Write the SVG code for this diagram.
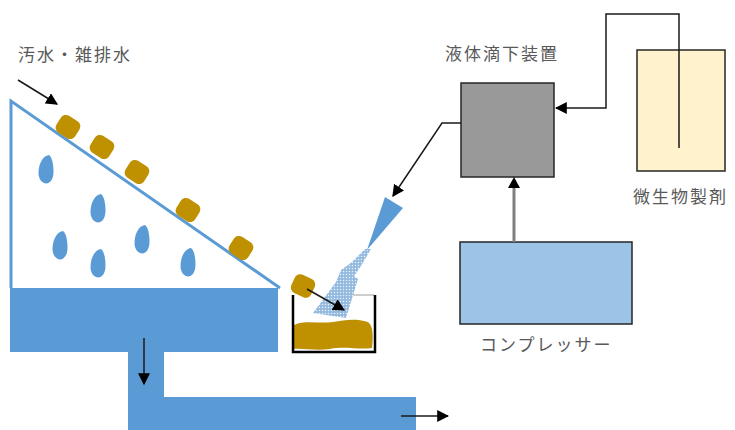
<svg xmlns="http://www.w3.org/2000/svg" width="735" height="430" viewBox="0 0 735 430">
  <defs>
    <style>
      .label { font-family: "Noto Sans CJK JP", "Noto Sans CJK SC", sans-serif; font-size: 17px; fill: #595959; letter-spacing: 2px; }
      .flow { fill: #5b9bd5; }
      .chunk { fill: #bf9000; }
      .drop { fill: #5b9bd5; }
      .arrow { stroke: #1a1a1a; stroke-width: 1.5; fill: none; }
      .box { stroke: #262626; stroke-width: 1.5; }
    </style>
    <marker id="head2" viewBox="0 0 10 10" refX="9" refY="5" markerWidth="12" markerHeight="12" orient="auto" markerUnits="userSpaceOnUse">
      <path d="M0,0 L10,5 L0,10 Z" fill="#000"/>
    </marker>
    <pattern id="mist" width="3" height="3" patternUnits="userSpaceOnUse">
      <rect width="3" height="3" fill="#93b9df"/>
      <circle cx="1.5" cy="1.5" r="0.75" fill="#eaf2fa"/>
    </pattern>
    <path id="dropShape" d="M3,-14 C-4,-13 -7.5,-4 -7.5,4 C-7.5,11 -3,14.5 0,14.5 C4,14.5 7.5,10 7.5,3 C7.5,-5 6,-12 3,-14 Z"/>
    <rect id="chunkShape" x="-11" y="-10" width="22" height="20" rx="6"/>
  </defs>

  <!-- screen: sloped separator -->
  <g id="screen">
    <path d="M11,288 L11,101 L280,288" fill="#fff" stroke="#5b9bd5" stroke-width="3" stroke-linejoin="miter"/>
    <g class="drop">
      <use href="#dropShape" transform="translate(46,169)"/>
      <use href="#dropShape" transform="translate(98,208)"/>
      <use href="#dropShape" transform="translate(60,245)"/>
      <use href="#dropShape" transform="translate(98,263)"/>
      <use href="#dropShape" transform="translate(142,239)"/>
      <use href="#dropShape" transform="translate(188,262)"/>
    </g>
  </g>

  <!-- solids on the slope -->
  <g id="solids" class="chunk">
    <use href="#chunkShape" transform="translate(68,127) rotate(32)"/>
    <use href="#chunkShape" transform="translate(102,147) rotate(32)"/>
    <use href="#chunkShape" transform="translate(137,172) rotate(32)"/>
    <use href="#chunkShape" transform="translate(188,210) rotate(32)"/>
    <use href="#chunkShape" transform="translate(241,248) rotate(32)"/>
    <use href="#chunkShape" transform="translate(303,286) rotate(25)"/>
  </g>

  <!-- water channel -->
  <g id="channel" class="flow">
    <path d="M10,288 L278,288 L278,352 L164,352 L164,397 L416,397 L416,430 L128,430 L128,352 L10,352 Z"/>
  </g>

  <!-- collection tank -->
  <g id="tank">
    <line x1="347" y1="295" x2="374" y2="295" stroke="#bfbfbf" stroke-width="1.5"/>
    <path d="M294,325 C305,320 320,324 333,322 C345,320 355,318 368,322 C374,326 373,340 372,348 C360,350 345,346 330,349 C315,351 302,348 294,349 Z" class="chunk"/>
    <path d="M365,249 L371,249 L361,266 L354,276 L358,279 L346,318 L313,313 L336,282 L341,270 L352,262 Z" fill="url(#mist)"/>
    <path d="M293,295 L293,352 L375,352 L375,295" fill="none" stroke="#000" stroke-width="2.5"/>
  </g>

  <!-- nozzle -->
  <g id="nozzle">
    <path d="M385,197 L403,208 L367,250 Z" fill="#5b9bd5"/>
  </g>

  <!-- liquid dropping unit -->
  <g id="dropper">
    <rect x="461" y="83" width="93" height="94" fill="#999999" class="box"/>
    <text x="445" y="60" class="label">液体滴下装置</text>
  </g>

  <!-- microbial agent -->
  <g id="agent">
    <rect x="637" y="50" width="88" height="121" fill="#fff2cc" class="box"/>
    <text x="633" y="203" class="label">微生物製剤</text>
  </g>

  <!-- compressor -->
  <g id="compressor">
    <rect x="460" y="242" width="172" height="82" fill="#9dc3e6" class="box"/>
    <text x="480" y="351" class="label">コンプレッサー</text>
  </g>

  <!-- wastewater label -->
  <g id="inflow">
    <text x="18" y="61" class="label">汚水・雑排水</text>
  </g>

  <!-- connectors -->
  <g id="connectors">
    <line x1="18" y1="80" x2="57" y2="104" class="arrow" marker-end="url(#head2)"/>
    <line x1="307" y1="289" x2="344" y2="310" class="arrow" marker-end="url(#head2)"/>
    <line x1="144" y1="338" x2="144" y2="384" class="arrow" marker-end="url(#head2)"/>
    <line x1="401" y1="416" x2="448" y2="416" class="arrow" marker-end="url(#head2)"/>
    <polyline points="461,123 442,123 393,196" class="arrow" marker-end="url(#head2)"/>
    <polyline points="679,148 679,14 606,14 606,108 556,108" class="arrow" marker-end="url(#head2)"/>
    <line x1="514" y1="242" x2="514" y2="180" stroke="#7f7f7f" stroke-width="3"/>
    <path d="M508,188 L514,177 L520,188 Z" fill="#000"/>
  </g>
</svg>
